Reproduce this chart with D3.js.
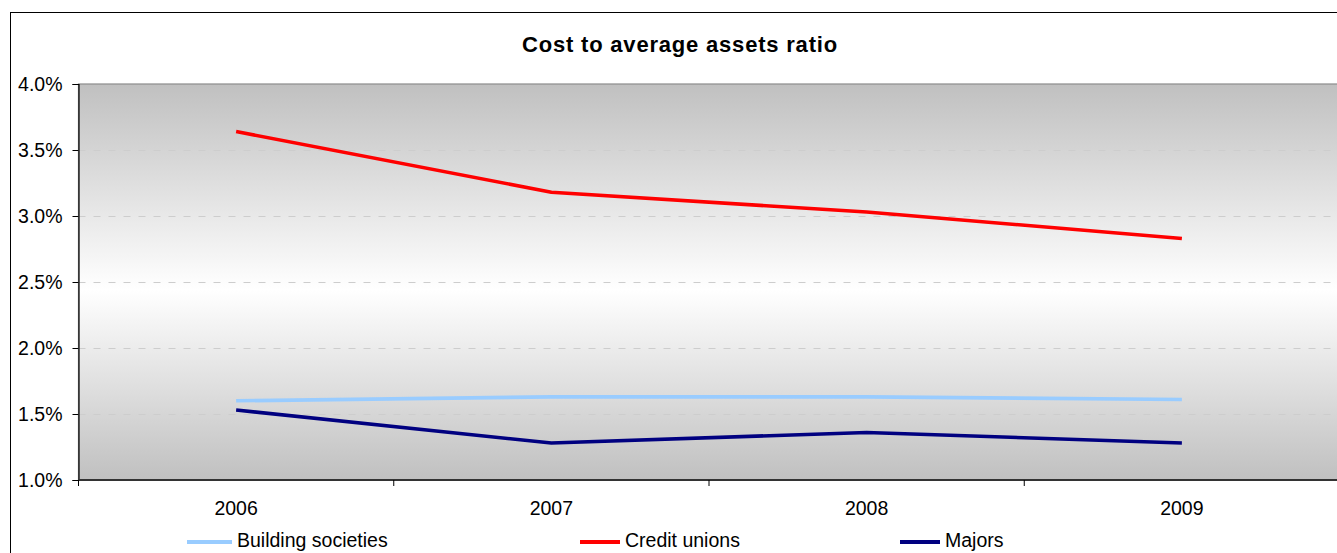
<!DOCTYPE html>
<html>
<head>
<meta charset="utf-8">
<script src="https://cdn.jsdelivr.net/npm/d3@7/dist/d3.min.js"></script>
<style>
  html, body { margin: 0; padding: 0; background: #fff; }
  svg { display: block; font-family: Arial, "Liberation Sans", sans-serif; }
</style>
</head>
<body>
<svg id="chart" width="1337" height="553"></svg>
<script>
// Chart data
const years = ["2006", "2007", "2008", "2009"];
const buildingSocieties = [1.60, 1.63, 1.63, 1.61];
const creditUnions = [3.64, 3.18, 3.03, 2.83];
const majors = [1.53, 1.28, 1.36, 1.28];
const yTicks = [1.0, 1.5, 2.0, 2.5, 3.0, 3.5, 4.0];
const seriesNames = ["Building societies", "Credit unions", "Majors"];
const seriesColors = ["#99CCFF", "#FF0000", "#000080"];

const series = [
  { name: seriesNames[0], color: seriesColors[0], values: buildingSocieties },
  { name: seriesNames[1], color: seriesColors[1], values: creditUnions },
  { name: seriesNames[2], color: seriesColors[2], values: majors }
];

const svg = d3.select("#chart");

// Plot area geometry
const plot = { left: 78.5, right: 1339.5, top: 84, bottom: 480 };

// Outer chart frame
svg.append("rect")
  .attr("x", 10.5).attr("y", 12.5)
  .attr("width", 1345).attr("height", 560)
  .attr("fill", "#fff").attr("stroke", "#000").attr("stroke-width", 1);

// Title
svg.append("text")
  .attr("x", 680).attr("y", 52)
  .attr("text-anchor", "middle")
  .attr("font-size", "22px").attr("font-weight", "bold")
  .attr("letter-spacing", "0.8px")
  .attr("fill", "#000")
  .text("Cost to average assets ratio");

// Scales
const x = d3.scaleBand().domain(years).range([plot.left, plot.right]).padding(0);
const y = d3.scaleLinear().domain([1.0, 4.0]).range([plot.bottom, plot.top]);

// Background gradient: grey at the edges, white in the middle
const defs = svg.append("defs");
const grad = defs.append("linearGradient")
  .attr("id", "plotFill").attr("x1", 0).attr("y1", 0).attr("x2", 0).attr("y2", 1);
grad.append("stop").attr("offset", "0%").attr("stop-color", "#c0c0c0");
grad.append("stop").attr("offset", "52%").attr("stop-color", "#ffffff");
grad.append("stop").attr("offset", "100%").attr("stop-color", "#c0c0c0");

svg.append("rect")
  .attr("x", plot.left).attr("y", plot.top)
  .attr("width", plot.right - plot.left).attr("height", plot.bottom - plot.top)
  .attr("fill", "url(#plotFill)")
  .attr("stroke", "#8c8c8c").attr("stroke-width", 1.2);

// Horizontal dashed gridlines
svg.append("g")
  .selectAll("line")
  .data(yTicks.filter(t => t > 1.0 && t < 4.0))
  .join("line")
  .attr("x1", plot.left).attr("x2", plot.right)
  .attr("y1", d => Math.round(y(d)) + 0.5).attr("y2", d => Math.round(y(d)) + 0.5)
  .attr("stroke", "#cdcdcd").attr("stroke-width", 1)
  .attr("stroke-dasharray", "7,8");

// Y axis
const yAxis = d3.axisLeft(y)
  .tickValues(yTicks)
  .tickFormat(d => d3.format(".1f")(d) + "%")
  .tickSize(6).tickPadding(10);
const gy = svg.append("g")
  .attr("transform", `translate(${plot.left},0)`)
  .call(yAxis);
gy.select(".domain").attr("stroke", "#000").attr("stroke-width", 1.2);
gy.selectAll(".tick line").attr("stroke", "#000");
gy.selectAll(".tick text")
  .attr("font-size", "19.5px").attr("fill", "#000")
  .attr("font-family", "Arial, 'Liberation Sans', sans-serif");

// X axis with tick marks between categories
const gx = svg.append("g")
  .attr("transform", `translate(0,${plot.bottom})`);
gx.append("line")
  .attr("x1", plot.left).attr("x2", plot.right)
  .attr("y1", 0).attr("y2", 0)
  .attr("stroke", "#333").attr("stroke-width", 2);
const bounds = years.map(d => x(d)).concat([x(years[years.length - 1]) + x.bandwidth()]);
gx.selectAll("line.tick")
  .data(bounds)
  .join("line").attr("class", "tick")
  .attr("x1", d => d).attr("x2", d => d)
  .attr("y1", 0).attr("y2", 6)
  .attr("stroke", "#000").attr("stroke-width", 1);
gx.selectAll("text")
  .data(years)
  .join("text")
  .attr("x", d => x(d) + x.bandwidth() / 2)
  .attr("y", 35)
  .attr("text-anchor", "middle")
  .attr("font-size", "19.5px").attr("fill", "#000")
  .text(d => d);

// Series lines
const line = d3.line()
  .x((d, i) => x(years[i]) + x.bandwidth() / 2)
  .y(d => y(d));

svg.append("g")
  .selectAll("path")
  .data(series)
  .join("path")
  .attr("d", d => line(d.values))
  .attr("fill", "none")
  .attr("stroke", d => d.color)
  .attr("stroke-width", 3.6)
  .attr("stroke-linejoin", "round");

// Legend: sample line then label for each series
const legendPos = [187, 580, 900];
const legendLen = [45, 40, 40];
const legend = svg.append("g")
  .selectAll("g")
  .data(series)
  .join("g")
  .attr("transform", (d, i) => `translate(${legendPos[i]},542)`);
legend.append("line")
  .attr("x1", 0).attr("x2", (d, i) => legendLen[i])
  .attr("y1", 0).attr("y2", 0)
  .attr("stroke", d => d.color).attr("stroke-width", 4);
legend.append("text")
  .attr("x", (d, i) => legendLen[i] + 5).attr("y", 5)
  .attr("font-size", "19.5px").attr("fill", "#000")
  .text(d => d.name);
</script>
</body>
</html>
